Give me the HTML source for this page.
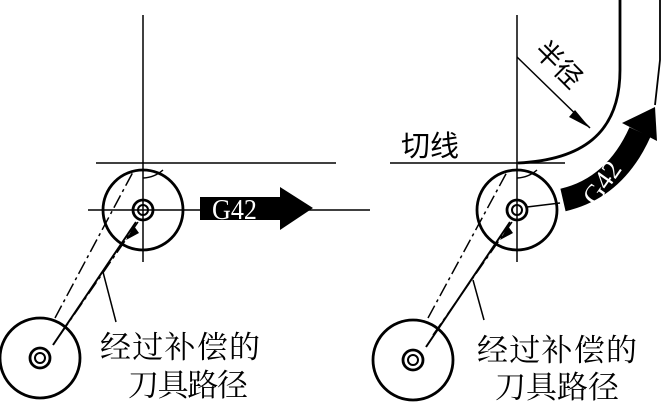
<!DOCTYPE html>
<html><head><meta charset="utf-8"><style>
html,body{margin:0;padding:0;background:#fff}
svg{display:block}
text{font-family:"Liberation Serif","Noto Serif CJK SC","Noto Sans CJK SC",serif}
.cjk{font-family:"Noto Sans CJK SC","WenQuanYi Zen Hei",sans-serif}
</style></head><body>
<svg width="663" height="403" viewBox="0 0 663 403" xmlns="http://www.w3.org/2000/svg">
<g stroke="#000" fill="none">
<line x1="143" y1="15" x2="143" y2="262" stroke-width="1.5"/>
<line x1="96" y1="163" x2="336" y2="163" stroke-width="1.5"/>
<line x1="88" y1="210" x2="200" y2="210" stroke-width="1.5"/>
<line x1="300" y1="210" x2="370" y2="210" stroke-width="1.5"/>
<circle cx="143" cy="210" r="40" stroke-width="2.8"/>
<circle cx="143" cy="210" r="10" stroke-width="2.8"/>
<circle cx="143" cy="210" r="5" stroke-width="2"/>
<path d="M143 178 A32 32 0 0 0 163 170" stroke-width="1.5"/>
<circle cx="40" cy="358" r="40" stroke-width="2.8"/>
<circle cx="40" cy="358" r="10" stroke-width="2.8"/>
<circle cx="40" cy="358" r="5" stroke-width="2"/>
<line x1="53" y1="345" x2="136" y2="222" stroke-width="2"/>
<line x1="55" y1="318" x2="133" y2="172" stroke-width="1.5" stroke-dasharray="14,4,3,4"/>
<line x1="60" y1="335" x2="138" y2="222" stroke-width="1.5" stroke-dasharray="14,4,3,4"/>
<line x1="103" y1="272" x2="116" y2="322" stroke-width="1.5"/>
<line x1="517" y1="15" x2="517" y2="262" stroke-width="1.5"/>
<line x1="390" y1="163" x2="565" y2="163" stroke-width="1.5"/>
<circle cx="517" cy="210" r="40" stroke-width="2.8"/>
<circle cx="517" cy="210" r="10" stroke-width="2.8"/>
<circle cx="517" cy="210" r="5" stroke-width="2"/>
<line x1="527" y1="207" x2="560" y2="203" stroke-width="1.5"/>
<path d="M517 178 A32 32 0 0 0 537 170" stroke-width="1.5"/>
<path d="M620 0 L620 70 C620 135 580 160 518 163" stroke-width="2.8"/>
<path d="M660 0 L660 60 L655 105" stroke-width="1.8"/>
<line x1="517" y1="57" x2="590" y2="128" stroke-width="1.5"/>
<circle cx="413" cy="360" r="40" stroke-width="2.8"/>
<circle cx="413" cy="360" r="10" stroke-width="2.8"/>
<circle cx="413" cy="360" r="5" stroke-width="2"/>
<line x1="426" y1="347" x2="510" y2="222" stroke-width="2"/>
<line x1="428" y1="318" x2="507" y2="172" stroke-width="1.5" stroke-dasharray="14,4,3,4"/>
<line x1="433" y1="335" x2="512" y2="222" stroke-width="1.5" stroke-dasharray="14,4,3,4"/>
<line x1="473" y1="280" x2="484" y2="320" stroke-width="1.5"/>
<path d="M563 200 Q615 188 640 132" stroke-width="23"/>
</g>
<polygon points="590,128 575,110 569,117" fill="#000"/>
<polygon points="622,123 655,107 657,141" fill="#000"/>
<polygon points="134,226 126,240 139,233" fill="#000"/>
<polygon points="508,226 500,240 513,233" fill="#000"/>
<rect x="200" y="197" width="82" height="23" fill="#000"/>
<polygon points="280,187 313,208 280,230" fill="#000"/>
<text x="0" y="0" font-size="29" fill="#fff" transform="translate(212 219) scale(0.9 1)">G42</text>
<text x="0" y="0" font-size="27" fill="#fff" transform="translate(596 207) rotate(-55)">G42</text>
<text class="cjk" x="0" y="0" font-size="27" transform="translate(533 52) rotate(45)">半径</text>
<text class="cjk" x="401" y="156" font-size="29">切线</text>
<g class="cjk" font-size="31">
<text x="100" y="358" textLength="160">经过补偿的</text>
<text x="128" y="396" textLength="120">刀具路径</text>
<text x="477" y="361" textLength="160">经过补偿的</text>
<text x="495" y="398" textLength="124">刀具路径</text>
</g>
</svg>
</body></html>
